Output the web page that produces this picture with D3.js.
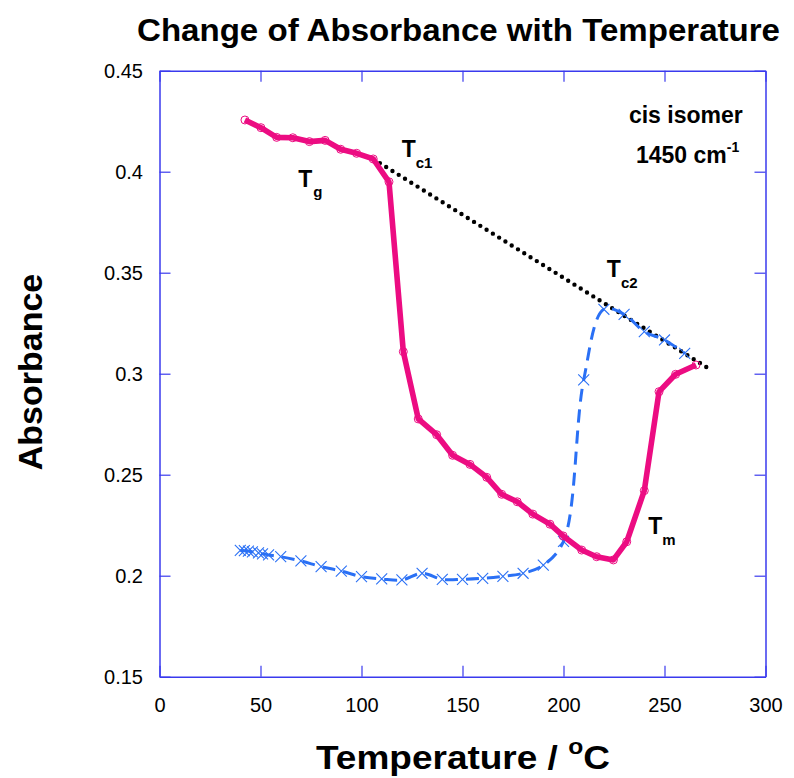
<!DOCTYPE html>
<html>
<head>
<meta charset="utf-8">
<script src="https://cdn.jsdelivr.net/npm/d3@7"></script>
<style>
  body { margin: 0; background: #fff; }
  svg text { font-family: "Liberation Sans", Arial, sans-serif; }
</style>
</head>
<body>
<div id="chart"></div>
<script>
// heating curve (circles)
const heatTemp = [42.3, 50.2, 58, 66, 74.2, 82, 89.7, 97.6, 105.8, 113.6, 120.7, 128.1, 137.2, 145.1, 153.7,
  162, 169.4, 177.1, 184.8, 193.3, 199.8, 209, 216.4, 224.7, 231.3, 240, 247.3, 255.5, 265.6];
const heatAbs = [0.4256, 0.4218, 0.417, 0.4168, 0.4149, 0.4155, 0.4111, 0.4091, 0.4063, 0.395, 0.3109, 0.2776, 0.2698,
  0.2596, 0.2551, 0.2487, 0.2403, 0.2366, 0.2305, 0.2255, 0.2197, 0.2127, 0.2094, 0.2078, 0.2168, 0.2421, 0.2911,
  0.2997, 0.3043];

// second curve (crosses)
const crossTemp = [40, 42, 44, 46, 49, 51, 54, 60, 70, 80, 90, 100, 110, 120, 130, 140, 150, 160, 170, 180, 190,
  200, 210, 220, 230, 240, 250, 260];
const crossAbs = [0.2125, 0.2124, 0.2122, 0.2118, 0.2113, 0.2108, 0.2103, 0.2094, 0.2073, 0.2045, 0.2023, 0.1995,
  0.1984, 0.1979, 0.2012, 0.1982, 0.1982, 0.1987, 0.1997, 0.2012, 0.2052, 0.217, 0.2969, 0.3319, 0.3294, 0.3208,
  0.3167, 0.3101];

// dotted extrapolation line
const guideTemp = [106, 272];
const guideAbs = [0.4062, 0.3025];

const xTicks = [0, 50, 100, 150, 200, 250, 300];
const yTicks = [0.15, 0.2, 0.25, 0.3, 0.35, 0.4, 0.45];

const width = 794, height = 778;
const margin = { top: 70.7, right: 28.5, bottom: 101.3, left: 159.5 };
const innerW = width - margin.left - margin.right;
const innerH = height - margin.top - margin.bottom;

const pink = "#ec0c82";
const blue = "#2a70f5";
const frame = "#3a3aee";

const svg = d3.select("#chart").append("svg")
  .attr("width", width)
  .attr("height", height);

const g = svg.append("g")
  .attr("transform", `translate(${margin.left},${margin.top})`);

const x = d3.scaleLinear().domain([0, 300]).range([0, innerW]);
const y = d3.scaleLinear().domain([0.15, 0.45]).range([innerH, 0]);

// axes, ticks pointing inward
const styleAxis = (sel) => {
  sel.selectAll("path.domain").attr("stroke", frame).attr("stroke-width", 1.5);
  sel.selectAll(".tick line").attr("stroke", frame).attr("stroke-width", 1.2);
  sel.selectAll(".tick text").attr("fill", "#000").style("font-size", "20px")
    .style("font-family", "'Liberation Sans', Arial, sans-serif");
};

g.append("g")
  .attr("transform", `translate(0,${innerH})`)
  .call(d3.axisBottom(x).tickValues(xTicks).tickSizeInner(-11).tickSizeOuter(0).tickPadding(21))
  .call(styleAxis);

g.append("g")
  .call(d3.axisTop(x).tickValues(xTicks).tickSizeInner(-11).tickSizeOuter(0).tickFormat(""))
  .call(styleAxis);

g.append("g")
  .call(d3.axisLeft(y).tickValues(yTicks).tickSizeInner(-11).tickSizeOuter(0).tickPadding(16.5)
    .tickFormat(d3.format("~g")))
  .call(styleAxis);

g.append("g")
  .attr("transform", `translate(${innerW},0)`)
  .call(d3.axisRight(y).tickValues(yTicks).tickSizeInner(-11).tickSizeOuter(0).tickFormat(""))
  .call(styleAxis);

// dotted guide line
const guide = guideTemp.map((t, i) => [t, guideAbs[i]]);
g.append("path")
  .datum(guide)
  .attr("fill", "none")
  .attr("stroke", "#000")
  .attr("stroke-width", 4.4)
  .attr("stroke-linecap", "round")
  .attr("stroke-dasharray", "0 7.4")
  .attr("d", d3.line().x(d => x(d[0])).y(d => y(d[1])));

// crosses curve
const cross = crossTemp.map((t, i) => [t, crossAbs[i]]);
g.append("path")
  .datum(cross)
  .attr("fill", "none")
  .attr("stroke", blue)
  .attr("stroke-width", 3)
  .attr("stroke-dasharray", "13 8")
  .attr("d", d3.line().curve(d3.curveCatmullRom).x(d => x(d[0])).y(d => y(d[1])));

g.selectAll("path.cross")
  .data(cross)
  .join("path")
  .attr("class", "cross")
  .attr("transform", d => `translate(${x(d[0])},${y(d[1])})`)
  .attr("d", d3.symbol(d3.symbolX, 80))
  .attr("fill", "none")
  .attr("stroke", blue)
  .attr("stroke-width", 1.1);

// heating curve
const heat = heatTemp.map((t, i) => [t, heatAbs[i]]);
g.append("path")
  .datum(heat)
  .attr("fill", "none")
  .attr("stroke", pink)
  .attr("stroke-width", 5.6)
  .attr("stroke-linejoin", "round")
  .attr("d", d3.line().x(d => x(d[0])).y(d => y(d[1])));

g.selectAll("circle.heat")
  .data(heat)
  .join("circle")
  .attr("class", "heat")
  .attr("cx", d => x(d[0]))
  .attr("cy", d => y(d[1]))
  .attr("r", 4)
  .attr("fill", "none")
  .attr("stroke", pink)
  .attr("stroke-width", 1);

// T labels with subscripts
const labels = [
  { main: "T", sub: "g", x: 298.3, y: 186.7, sx: 313.3, sy: 196.7 },
  { main: "T", sub: "c1", x: 401.7, y: 156.7, sx: 415.7, sy: 168.3 },
  { main: "T", sub: "c2", x: 606.7, y: 277.3, sx: 621, sy: 288.3 },
  { main: "T", sub: "m", x: 648.3, y: 534, sx: 662.3, sy: 545 },
];
labels.forEach(l => {
  svg.append("text").attr("x", l.x).attr("y", l.y)
    .style("font-size", "23px").style("font-weight", "bold").text(l.main);
  svg.append("text").attr("x", l.sx).attr("y", l.sy)
    .style("font-size", "15px").style("font-weight", "bold").text(l.sub);
});

svg.append("text")
  .attr("x", 742.7).attr("y", 123)
  .attr("text-anchor", "end")
  .style("font-size", "23px").style("font-weight", "bold")
  .text("cis isomer");

const wn = svg.append("text")
  .attr("x", 636).attr("y", 163)
  .style("font-size", "23px").style("font-weight", "bold");
wn.append("tspan").text("1450 cm");
wn.append("tspan").attr("dy", -11).style("font-size", "14px").text("-1");

// title and axis labels
svg.append("text")
  .attr("x", 137).attr("y", 41)
  .attr("textLength", 643)
  .attr("lengthAdjust", "spacingAndGlyphs")
  .style("font-size", "32px").style("font-weight", "bold")
  .text("Change of Absorbance with Temperature");

svg.append("text")
  .attr("transform", `translate(42,372) rotate(-90)`)
  .attr("text-anchor", "middle")
  .style("font-size", "34px").style("font-weight", "bold")
  .text("Absorbance");

const xl = svg.append("text")
  .attr("x", 316).attr("y", 769)
  .attr("textLength", 294)
  .attr("lengthAdjust", "spacingAndGlyphs")
  .style("font-size", "33px").style("font-weight", "bold");
xl.append("tspan").text("Temperature / ");
xl.append("tspan").attr("dy", -15).style("font-size", "22px").text("o");
xl.append("tspan").attr("dy", 15).text("C");
</script>
</body>
</html>
